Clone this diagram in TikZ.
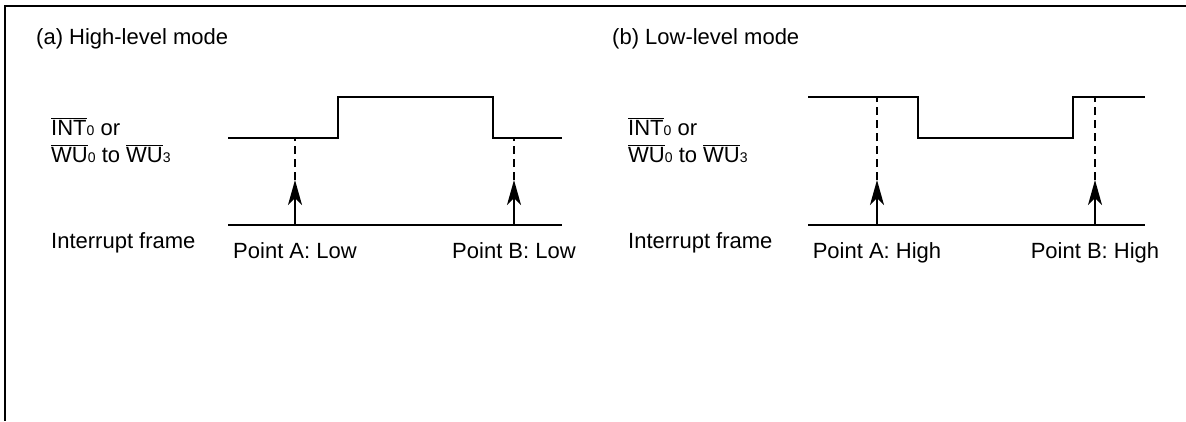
\documentclass[tikz,border=0pt]{standalone}
\usepackage{fontspec}
\setmainfont{Liberation Sans}
\usetikzlibrary{arrows.meta}
\newcommand{\ovl}[1]{$\overline{\mbox{#1}}$}
\newcommand{\sml}[1]{{\fontsize{14}{14}\selectfont #1}}

\begin{document}
\begin{tikzpicture}[x=1pt, y=-1pt, font=\fontsize{22}{26}\selectfont,
  sig/.style={black, line width=1.6pt},
  mark line/.style={black, line width=1.2pt, dash pattern=on 8pt off 5pt},
  trig/.style={black, line width=1.6pt, -{Stealth[length=25pt, width=14pt, inset=7pt]}},
  lbl/.style={anchor=base west, inner sep=0pt},
  ptlbl/.style={anchor=base, inner sep=0pt}]
\useasboundingbox (0,0) rectangle (1186,421);
\draw[line width=1.8pt] (1186,6) -- (5,6) -- (5,421);

% (a) high-level mode
\node[lbl] (atitle) at (36,44) {(a) High-level mode};
\node[lbl] (aint) at (51,135) {\ovl{INT}\sml{0} or};
\node[lbl] (awu) at (51,162) {\ovl{WU}\sml{0} to \ovl{WU}\sml{3}};
\node[lbl] (aframe) at (51,248) {Interrupt frame};
\draw[sig] (228,138) -- (338,138) -- (338,97) -- (493,97) -- (493,138) -- (562,138);
\draw[sig] (228,225) -- (562,225);
\foreach \x/\n in {295/A, 514/B} {
 \coordinate (a\n base) at (\x,225);
 \coordinate (a\n tip) at (\x,180);
 \coordinate (a\n sig) at (\x,138);
 \draw[mark line] (a\n tip) -- (a\n sig);
 \draw[trig] (a\n base) -- (a\n tip);
 \node[ptlbl] (apt\n) at (\x,258) {Point \n: Low};
}

% (b) low-level mode
\node[lbl] (btitle) at (612,44) {(b) Low-level mode};
\node[lbl] (bint) at (628,135) {\ovl{INT}\sml{0} or};
\node[lbl] (bwu) at (628,162) {\ovl{WU}\sml{0} to \ovl{WU}\sml{3}};
\node[lbl] (bframe) at (628,248) {Interrupt frame};
\draw[sig] (808,97) -- (918,97) -- (918,138) -- (1073,138) -- (1073,97) -- (1145,97);
\draw[sig] (808,225) -- (1145,225);
\foreach \x/\n in {877/A, 1095/B} {
 \coordinate (b\n base) at (\x,225);
 \coordinate (b\n tip) at (\x,180);
 \coordinate (b\n sig) at (\x,97);
 \draw[mark line] (b\n tip) -- (b\n sig);
 \draw[trig] (b\n base) -- (b\n tip);
 \node[ptlbl] (bpt\n) at (\x,258) {Point \n: High};
}
\end{tikzpicture}
\end{document}
